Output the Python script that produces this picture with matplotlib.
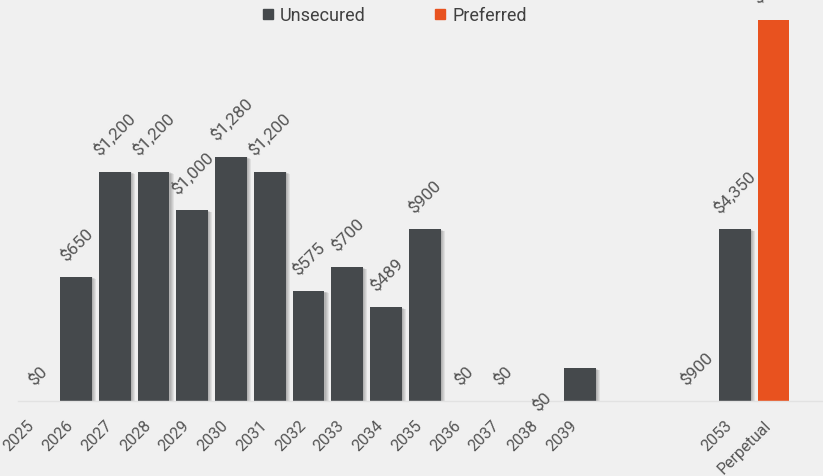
import matplotlib.pyplot as plt
import matplotlib.patheffects as pe
from matplotlib.lines import Line2D
from matplotlib.transforms import ScaledTranslation
import numpy as np

plt.rcParams['font.family'] = ['Roboto', 'DejaVu Sans']

# maturity buckets (three unlabeled spacer slots before 2053)
years = ["2025", "2026", "2027", "2028", "2029", "2030", "2031", "2032",
         "2033", "2034", "2035", "2036", "2037", "2038", "2039",
         "", "", "", "2053", "Perpetual"]
unsecured = [0, 650, 1200, 1200, 1000, 1280, 1200, 575,
             700, 489, 900, 0, 0, 0, 170,
             np.nan, np.nan, np.nan, 900, np.nan]
preferred = [np.nan] * 19 + [2000]
unsecured_labels = ["$0", "$650", "$1,200", "$1,200", "$1,000", "$1,280", "$1,200", "$575",
                    "$700", "$489", "$900", "$0", "$0", "$0", "",
                    "", "", "$900", "$4,350", ""]

bg = "#f0f0f0"
dark = "#45494c"
orange = "#e8521f"
txt = "#555555"

fig = plt.figure(figsize=(8.23, 4.77), dpi=100, facecolor=bg)
ax = fig.add_axes([18 / 823, 75.5 / 477, 1 - 18 / 823, 1 - 75.5 / 477])
ax.set_facecolor(bg)

x = np.arange(len(years))
# soft drop shadow: a few stacked faint offsets
shadow = [pe.SimplePatchShadow(offset=(d, -d * 0.5), alpha=0.07, shadow_rgbFace="#000000")
          for d in (3.0, 2.2, 1.5, 0.8)] + [pe.Normal()]
ax.bar(x, np.nan_to_num(unsecured), width=0.82, color=dark, path_effects=shadow, zorder=2)
ax.bar(x, np.nan_to_num(preferred), width=0.82, color=orange, zorder=2)

ax.set_xlim(-0.5, (823 - 37.3) / 38.75)
ax.set_ylim(0, 2000 * 401.5 / 381)

# value labels, rotated above each bar (2038 sits on the axis line)
for i, lab in enumerate(unsecured_labels):
    if not lab:
        continue
    v = unsecured[i] if not np.isnan(unsecured[i]) else 0
    on_axis = years[i] == "2038"
    ax.annotate(lab, (i, v), xytext=(0, 0 if on_axis else 10), textcoords="offset points",
                rotation=45, ha="center", va="center" if on_axis else "bottom",
                fontsize=12.5, color=txt, annotation_clip=False)
for i, v in enumerate(preferred):
    if np.isnan(v):
        continue
    ax.annotate(f"${v:,.0f}", (i, v), xytext=(0, 10), textcoords="offset points",
                rotation=45, ha="center", va="bottom", fontsize=12.5, color=txt,
                annotation_clip=False)

ax.set_xticks(x)
ax.set_xticklabels(years, rotation=45, ha="right", va="top", fontsize=11.5, color=txt)
shift = ScaledTranslation(9 / 100, 0, fig.dpi_scale_trans)
for t in ax.get_xticklabels():
    t.set_transform(t.get_transform() + shift)
ax.tick_params(axis="x", length=0, pad=12)
ax.set_yticks([])
for s in ["top", "left", "right"]:
    ax.spines[s].set_visible(False)
ax.spines["bottom"].set_color("#e2e2e2")
ax.spines["bottom"].set_linewidth(1)

handles = [Line2D([], [], marker="s", ls="none", color=dark, markersize=6.5),
           Line2D([], [], marker="s", ls="none", color=orange, markersize=6.5)]
fig.legend(handles, ["Unsecured", "Preferred"], ncol=2, loc="center",
           bbox_to_anchor=(395 / 823, 1 - 16 / 477), frameon=False,
           fontsize=13, labelcolor="#404040", handlelength=0.5,
           handletextpad=0.4, columnspacing=3.9)

fig.savefig("out.png", dpi=100, facecolor=bg)
